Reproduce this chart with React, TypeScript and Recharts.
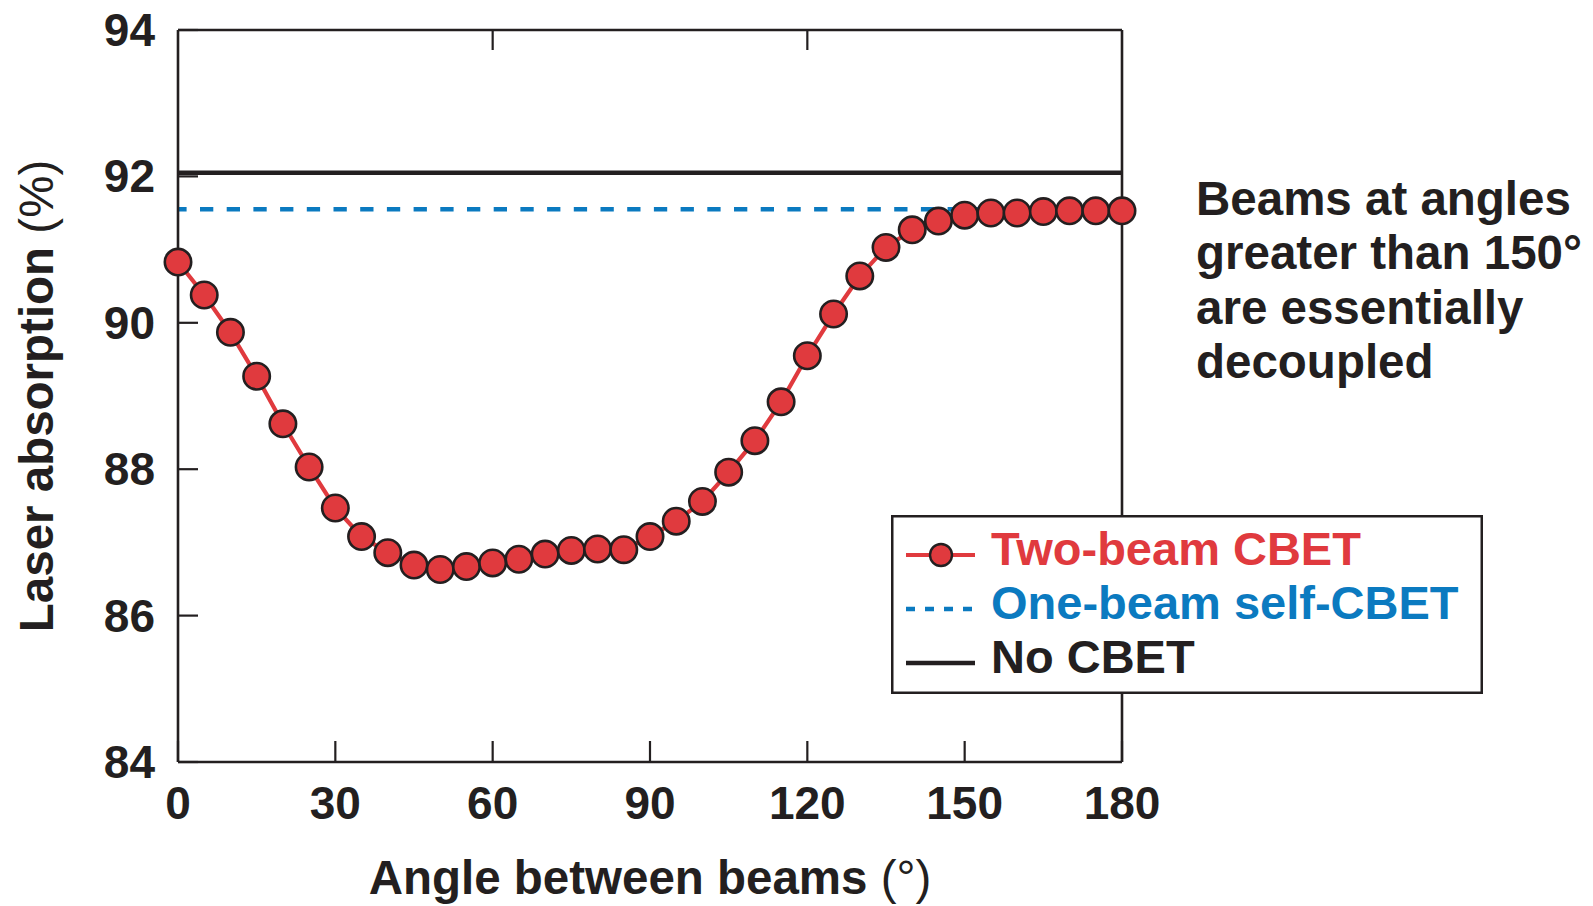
import React from 'react';
import { ComposedChart, Line, XAxis, YAxis, Legend } from 'recharts';

// ---- data ----
const angles = [0, 5, 10, 15, 20, 25, 30, 35, 40, 45, 50, 55, 60, 65, 70, 75, 80, 85, 90, 95, 100, 105, 110, 115, 120, 125, 130, 135, 140, 145, 150, 155, 160, 165, 170, 175, 180];
const twoBeamCBET = [90.83, 90.38, 89.87, 89.27, 88.62, 88.03, 87.47, 87.08, 86.86, 86.69, 86.63, 86.67, 86.72, 86.77, 86.84, 86.89, 86.91, 86.9, 87.08, 87.29, 87.56, 87.96, 88.39, 88.92, 89.55, 90.12, 90.64, 91.03, 91.27, 91.39, 91.47, 91.5, 91.5, 91.52, 91.53, 91.53, 91.53];
const ONE_BEAM_SELF_CBET = 91.55;
const NO_CBET = 92.05;

const xTicks = [0, 30, 60, 90, 120, 150, 180];
const xTopTicks = [60, 120];
const yTicks = [84, 86, 88, 90, 92, 94];
const yRightTicks = [86, 88, 90, 92];

const seriesNames = {
  twoBeam: 'Two-beam CBET',
  oneBeam: 'One-beam self-CBET',
  noCbet: 'No CBET',
};
const annotationLines = ['Beams at angles', 'greater than 150°', 'are essentially', 'decoupled'];

const data = angles.map((a, i) => ({
  angle: a,
  twoBeam: twoBeamCBET[i],
  oneBeam: ONE_BEAM_SELF_CBET,
  noCbet: NO_CBET,
}));

// ---- style ----
const FONT = '"Liberation Sans", Arial, Helvetica, sans-serif';
const DARK = '#231f20';
const RED = '#e03a3e';
const BLUE = '#0b7ac0';
const FS = 46;
const TITLE_FS = 47.5;

const LeftTick = (props: any) => {
  const { x, y, payload } = props;
  return (
    <text x={x} y={y} dy={16} textAnchor="end" fontFamily={FONT} fontWeight={700} fontSize={FS} fill={DARK}>
      {payload.value}
    </text>
  );
};

const BottomTick = (props: any) => {
  const { x, y, payload } = props;
  return (
    <text x={x} y={y} textAnchor="middle" fontFamily={FONT} fontWeight={700} fontSize={FS} fill={DARK}>
      {payload.value}
    </text>
  );
};

const EmptyTick = () => <g />;

const XTitle = (props: any) => {
  const vb = props.viewBox;
  return (
    <text x={vb.x + vb.width / 2} y={vb.y + 132} textAnchor="middle" fontFamily={FONT} fontSize={TITLE_FS} fill={DARK}>
      <tspan fontWeight={700}>Angle between beams </tspan>
      <tspan fontWeight={400}>(°)</tspan>
    </text>
  );
};

const YTitle = (props: any) => {
  const vb = props.viewBox;
  const cx = vb.x - 25;
  const cy = vb.y + vb.height / 2;
  return (
    <text x={cx} y={cy} transform={`rotate(-90 ${cx} ${cy})`} textAnchor="middle" fontFamily={FONT} fontSize={TITLE_FS} fill={DARK}>
      <tspan fontWeight={700}>Laser absorption </tspan>
      <tspan fontWeight={400}>(%)</tspan>
    </text>
  );
};

const legendStyle: Record<string, any> = {
  twoBeam: { dash: undefined, width: 3.8, marker: true },
  oneBeam: { dash: '9 10', width: 4.5, marker: false },
  noCbet: { dash: undefined, width: 4.5, marker: false },
};
const legendOrder = ['twoBeam', 'oneBeam', 'noCbet'];

const LegendBox = (props: any) => {
  const payload = props.payload || [];
  const items = legendOrder.map((k) => payload.find((p: any) => p.dataKey === k)).filter(Boolean);
  return (
    <svg width={592} height={179} style={{ display: 'block' }}>
      <rect x={1.25} y={1.25} width={589.5} height={176.5} fill="#fff" stroke={DARK} strokeWidth={2.5} />
      {items.map((it: any, i: number) => {
        const base = 50 + i * 54;
        const iy = base - 10;
        const st = legendStyle[it.dataKey];
        const color = it.dataKey === 'noCbet' ? DARK : it.color;
        return (
          <g key={it.dataKey}>
            <line x1={15} x2={84} y1={iy} y2={iy} stroke={color} strokeWidth={st.width} strokeDasharray={st.dash} />
            {st.marker && <circle cx={50} cy={iy} r={11} fill={RED} stroke={DARK} strokeWidth={2.4} />}
            <text x={100} y={base} fontFamily={FONT} fontWeight={700} fontSize={47} fill={color}>
              {it.value}
            </text>
          </g>
        );
      })}
    </svg>
  );
};

export default function App() {
  return (
    <div style={{ position: 'absolute', left: 0, top: 0, width: 1593, height: 906, background: '#fff' }}>
      <ComposedChart width={1593} height={906} data={data} margin={{ top: 29, right: 470, bottom: 43, left: 78 }}>
        <XAxis
          xAxisId="bottom"
          dataKey="angle"
          type="number"
          domain={[0, 180]}
          ticks={xTicks}
          interval={0}
          height={101}
          tickSize={-21}
          tickMargin={78}
          tick={BottomTick}
          axisLine={{ stroke: DARK, strokeWidth: 2.6 }}
          tickLine={{ stroke: DARK, strokeWidth: 2.2 }}
          label={<XTitle />}
        />
        <XAxis
          xAxisId="top"
          orientation="top"
          dataKey="angle"
          type="number"
          domain={[0, 180]}
          ticks={xTopTicks}
          interval={0}
          height={1}
          tickSize={-20}
          tick={EmptyTick}
          axisLine={{ stroke: DARK, strokeWidth: 2.6 }}
          tickLine={{ stroke: DARK, strokeWidth: 2.2 }}
        />
        <YAxis
          yAxisId="left"
          type="number"
          domain={[84, 94]}
          ticks={yTicks}
          interval={0}
          width={100}
          tickSize={-20}
          tickMargin={43}
          tick={LeftTick}
          axisLine={{ stroke: DARK, strokeWidth: 2.6 }}
          tickLine={{ stroke: DARK, strokeWidth: 2.2 }}
          label={<YTitle />}
        />
        <YAxis
          yAxisId="right"
          orientation="right"
          type="number"
          domain={[84, 94]}
          ticks={yRightTicks}
          interval={0}
          width={1}
          tickSize={-20}
          tick={EmptyTick}
          axisLine={{ stroke: DARK, strokeWidth: 2.6 }}
          tickLine={{ stroke: DARK, strokeWidth: 2.2 }}
        />
        <Line
          xAxisId="bottom"
          yAxisId="left"
          type="linear"
          dataKey="noCbet"
          name={seriesNames.noCbet}
          stroke={DARK}
          strokeWidth={4.5}
          dot={false}
          activeDot={false}
          isAnimationActive={false}
        />
        <Line
          xAxisId="bottom"
          yAxisId="left"
          type="linear"
          dataKey="oneBeam"
          name={seriesNames.oneBeam}
          stroke={BLUE}
          strokeWidth={4.5}
          strokeDasharray="13.3 13.4"
          strokeDashoffset={4.7}
          dot={false}
          activeDot={false}
          isAnimationActive={false}
        />
        <Line
          xAxisId="bottom"
          yAxisId="left"
          type="linear"
          dataKey="twoBeam"
          name={seriesNames.twoBeam}
          stroke={RED}
          strokeWidth={4.2}
          dot={{ r: 13.2, fill: RED, stroke: DARK, strokeWidth: 2.6 }}
          activeDot={false}
          isAnimationActive={false}
        />
        <g>
          {annotationLines.map((t, i) => (
            <text key={t} x={1196} y={215 + i * 54.3} fontFamily={FONT} fontWeight={700} fontSize={47.5} fill={DARK}>
              {t}
            </text>
          ))}
        </g>
        <Legend
          layout="horizontal"
          verticalAlign="middle"
          align="center"
          width={592}
          height={179}
          wrapperStyle={{ left: 891, top: 515, width: 592, height: 179 }}
          content={<LegendBox />}
        />
      </ComposedChart>
    </div>
  );
}
